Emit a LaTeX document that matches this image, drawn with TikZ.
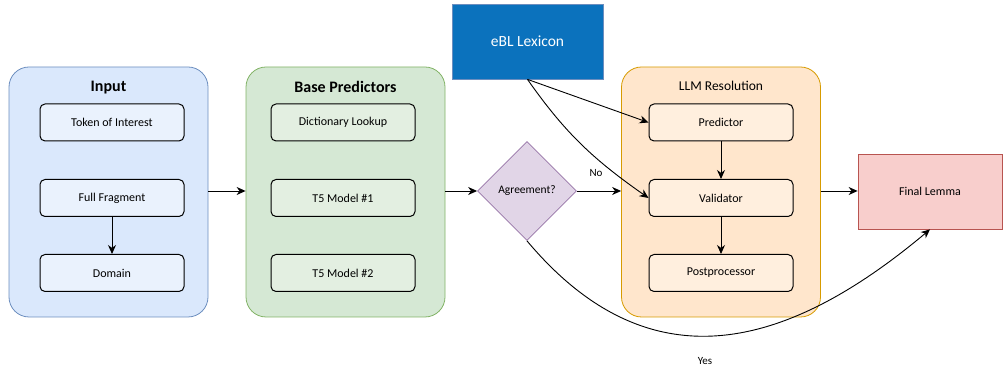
\documentclass[tikz,border=0pt]{standalone}
\usepackage{fontspec}
\setmainfont{Carlito}
\usetikzlibrary{positioning,shapes.geometric,arrows.meta}
\definecolor{lemmainputfill}{RGB}{218,232,252}
\definecolor{lemmainputdraw}{RGB}{108,142,191}
\definecolor{lemmainputbox}{RGB}{234,242,253}
\definecolor{lemmabasefill}{RGB}{213,232,212}
\definecolor{lemmabasedraw}{RGB}{130,179,102}
\definecolor{lemmabasebox}{RGB}{227,239,225}
\definecolor{lemmallmfill}{RGB}{255,230,204}
\definecolor{lemmallmdraw}{RGB}{215,155,0}
\definecolor{lemmallmbox}{RGB}{255,239,222}
\definecolor{lemmagreefill}{RGB}{225,213,231}
\definecolor{lemmagreedraw}{RGB}{150,115,166}
\definecolor{lemmalexfill}{RGB}{11,114,189}
\definecolor{lemmalexdraw}{RGB}{108,142,191}
\definecolor{lemmafinalfill}{RGB}{248,206,204}
\definecolor{lemmafinaldraw}{RGB}{184,84,80}
\tikzset{
    lemma container/.style={
        rectangle,
        rounded corners=20pt,
        minimum width=199pt,
        minimum height=250pt,
        line width=0.8pt,
        inner sep=0pt
    },
    lemma title/.style={font=\fontsize{16}{18}\selectfont\bfseries, inner sep=0pt},
    lemma box/.style={
        rectangle,
        rounded corners=5pt,
        draw=black,
        line width=1pt,
        minimum width=144pt,
        minimum height=37pt,
        inner sep=0pt,
        font=\fontsize{12}{14}\selectfont
    },
    lemma block/.style={
        rectangle,
        line width=0.8pt,
        inner sep=0pt,
        minimum height=75pt
    },
    lemma flow/.style={-{Stealth[length=9pt,width=8pt]}, line width=0.9pt},
    lemma label/.style={font=\fontsize{11}{13}\selectfont, inner sep=0pt}
}
\begin{document}
\begin{tikzpicture}[x=1pt,y=1pt]
    \useasboundingbox (0,0) rectangle (1003,371);

    %Containers with their titles
    \node[lemma container, fill=lemmainputfill, draw=lemmainputdraw] (input) at (108.5,179) {};
    \node[lemma title] (input-title) at (108.5,283) {Input};
    \node[lemma container, fill=lemmabasefill, draw=lemmabasedraw] (base) at (345.5,179) {};
    \node[lemma title] (base-title) at (345.5,284) {Base Predictors};
    \node[lemma container, fill=lemmallmfill, draw=lemmallmdraw] (llm) at (721,179) {};
    \node[lemma title, font=\fontsize{13.5}{15}\selectfont] (llm-title) at (721,285) {LLM Resolution};

    %Input fields
    \node[lemma box, fill=lemmainputbox] (token) at (112,248.5) {Token of Interest};
    \node[lemma box, fill=lemmainputbox] (fragment) at (112,173) {Full Fragment};
    \node[lemma box, fill=lemmainputbox] (domain) at (112,98) {Domain};

    %Base predictors
    \node[lemma box, fill=lemmabasebox] (lookup) at (343,248.5) {Dictionary Lookup};
    \node[lemma box, fill=lemmabasebox] (t5-one) at (343,173) {T5 Model \#1};
    \node[lemma box, fill=lemmabasebox] (t5-two) at (343,98) {T5 Model \#2};

    %LLM steps
    \node[lemma box, fill=lemmallmbox] (predictor) at (721,248.5) {Predictor};
    \node[lemma box, fill=lemmallmbox] (validator) at (721,173) {Validator};
    \node[lemma box, fill=lemmallmbox] (postproc) at (721,98) {Postprocessor};

    \node[diamond, aspect=1, minimum width=99pt, minimum height=99pt, inner sep=0pt,
          fill=lemmagreefill, draw=lemmagreedraw, line width=0.8pt,
          font=\fontsize{11.5}{13}\selectfont] (agree) at (527,180) {Agreement?};

    \node[lemma block, minimum width=151pt, fill=lemmalexfill, draw=lemmalexdraw,
          text=white, font=\fontsize{15.5}{17}\selectfont] (lexicon) at (527.5,329.5) {eBL Lexicon};
    \node[lemma block, minimum width=144pt, fill=lemmafinalfill, draw=lemmafinaldraw,
          font=\fontsize{12}{14}\selectfont] (final) at (930,179.5) {Final Lemma};

    \node[lemma label] (no-label) at (596,198) {No};
    \node[lemma label] (yes-label) at (705,10) {Yes};

    \draw[lemma flow] (fragment) -- (domain);
    \draw[lemma flow] (predictor) -- (validator);
    \draw[lemma flow] (validator) -- (postproc);

    \draw[lemma flow] (input.east |- agree.west) -- (base.west |- agree.west);
    \draw[lemma flow] (base.east |- agree.west) -- (agree.west);
    \draw[lemma flow] (agree.east) -- (llm.west |- agree.east);
    \draw[lemma flow] (llm.east |- agree.east) -- (final.west |- agree.east);

    \draw[lemma flow] (lexicon.south) -- (predictor.west);
    \draw[lemma flow] (lexicon.south) to[out=-55,in=145] (validator.west);
    \draw[lemma flow] (agree.south) to[out=-50,in=-140,looseness=1.2] (final.south);
\end{tikzpicture}
\end{document}
